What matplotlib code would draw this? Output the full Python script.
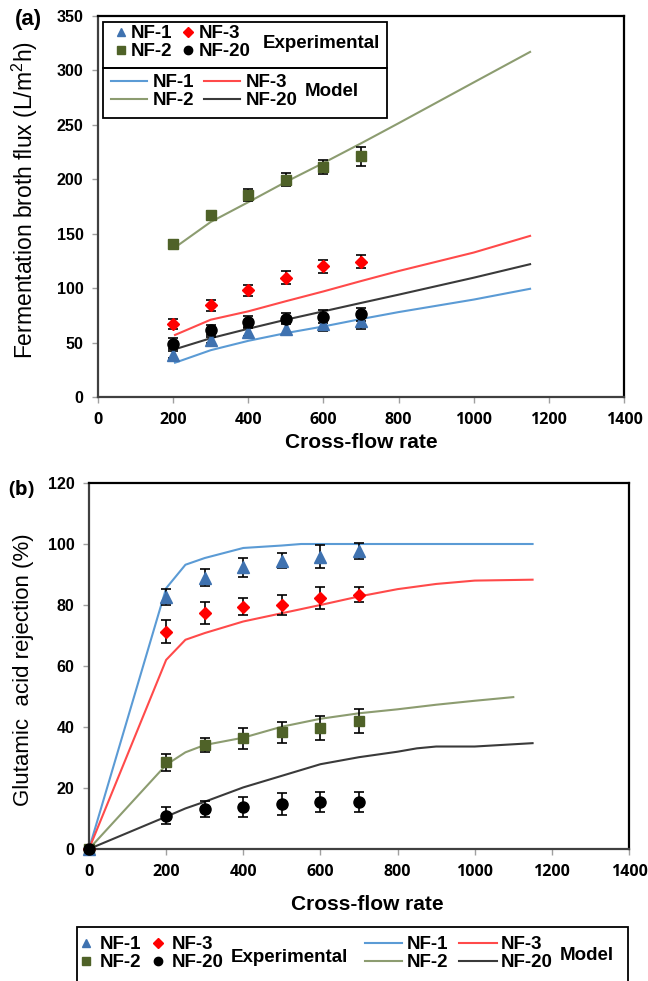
import numpy as np
import matplotlib
matplotlib.use("Agg")
import matplotlib.pyplot as plt
from matplotlib.lines import Line2D
from matplotlib.patches import Rectangle

W, H = 648, 981

# ---- panel (a) data: fermentation broth flux ----
x_exp = [200, 300, 400, 500, 600, 700]
a_nf1 = [39, 52.5, 59.6, 62.7, 67, 69.5]
a_nf1_err = [3, 3, 4, 5, 6, 7.4]
a_nf2 = [141, 167.6, 185.5, 199.7, 211, 221]
a_nf2_err = [3, 3, 5.4, 6.3, 6.6, 9]
a_nf3 = [67.3, 84.3, 98.2, 109.6, 120, 124.4]
a_nf3_err = [4.6, 4.9, 5, 5.9, 6.3, 5.6]
a_nf20 = [49, 61.5, 69, 72, 73.8, 76]
a_nf20_err = [5, 5, 5, 5, 6, 6]

x_mod_a = [205, 300, 400, 500, 600, 700, 800, 1000, 1150]
ma_nf1 = [31.5, 43, 51.6, 58.7, 64.8, 71.6, 78, 89.5, 99.4]
ma_nf2 = [137.4, 160.8, 179, 197.6, 215, 233, 251.5, 289, 317]
ma_nf3 = [57, 71, 78.7, 88, 97, 106.5, 115.7, 132.7, 148]
ma_nf20 = [43.9, 54, 62.7, 71, 78.7, 86.4, 94, 109.6, 122]

# ---- panel (b) data: glutamic acid rejection ----
x_exp_b = [0, 200, 300, 400, 500, 600, 700]
b_nf1 = [0, 82.5, 89, 92.3, 94.5, 95.9, 97.8]
b_nf1_err = [0, 2.6, 2.8, 3, 2.4, 3.7, 2.6]
b_nf3 = [0, 71.3, 77.3, 79.5, 80, 82.3, 83.4]
b_nf3_err = [0, 3.9, 3.6, 2.8, 3.4, 3.5, 2.5]
b_nf2 = [0, 28.4, 34.1, 36.3, 38.2, 39.7, 42]
b_nf2_err = [0, 2.8, 2.4, 3.4, 3.3, 3.8, 4]
b_nf20 = [0, 10.9, 13, 13.9, 14.8, 15.5, 15.5]
b_nf20_err = [0, 2.8, 2.6, 3.3, 3.6, 3.3, 3.3]

xb_nf1 = [0, 200, 250, 300, 400, 500, 550, 1150]
mb_nf1 = [0, 85.5, 93.2, 95.4, 98.7, 99.5, 100, 100]
xb_nf3 = [0, 200, 250, 300, 400, 500, 600, 700, 800, 900, 1000, 1150]
mb_nf3 = [0, 62, 68.6, 70.8, 74.6, 77.3, 80, 82.8, 85.2, 86.9, 88, 88.3]
xb_nf2 = [0, 200, 250, 300, 400, 500, 600, 700, 800, 900, 1000, 1100]
mb_nf2 = [0, 27.6, 31.7, 34.1, 36.5, 40.1, 42.7, 44.5, 45.8, 47.3, 48.6, 49.8]
xb_nf20 = [0, 200, 250, 300, 400, 500, 600, 700, 800, 850, 900, 1000, 1150]
mb_nf20 = [0, 10.6, 13.3, 15.5, 20.2, 24, 27.8, 30.1, 31.9, 33, 33.6, 33.6, 34.7]

names = ["NF-1", "NF-2", "NF-3", "NF-20"]
mk_style = {
    "NF-1": dict(marker="^", color="#3F72B0", ms=8),
    "NF-2": dict(marker="s", color="#4F6228", ms=7.5),
    "NF-3": dict(marker="D", color="#FF0000", ms=6.5),
    "NF-20": dict(marker="o", color="#000000", ms=8),
}
line_col = {"NF-1": "#5B9BD5", "NF-2": "#8C9C70", "NF-3": "#FF4A4A", "NF-20": "#3A3A3A"}

ARIAL = "Liberation Sans"
OPEN = "Open Sans"


def px(x, y):
    return x / W, 1 - y / H


def style_axes(ax, xmax, ymax, ystep):
    ax.set_xlim(0, xmax)
    ax.set_ylim(0, ymax)
    ax.set_xticks(np.arange(0, xmax + 1, 200))
    ax.set_yticks(np.arange(0, ymax + 1, ystep))
    for s in ax.spines.values():
        s.set_linewidth(1.6)
        s.set_color("black")
    ax.spines["left"].set_color("#404040")
    ax.spines["bottom"].set_color("#404040")
    ax.tick_params(axis="both", direction="out", length=4.5, width=1, color="#A0A0A0", pad=6)
    for lab in ax.get_xticklabels():
        lab.set_fontfamily(OPEN)
        lab.set_fontweight("bold")
        lab.set_fontsize(11.5)
    for lab in ax.get_yticklabels():
        lab.set_fontfamily(ARIAL)
        lab.set_fontweight("bold")
        lab.set_fontsize(11.5)


def exp_points(ax, x, ys, errs):
    for n in ["NF-2", "NF-3", "NF-1", "NF-20"]:
        st = mk_style[n]
        ax.errorbar(x, ys[n], yerr=errs[n], fmt="none", ecolor="black", elinewidth=1.2,
                    capsize=3.5, capthick=1.2, zorder=3, clip_on=False)
        ax.plot(x, ys[n], linestyle="none", marker=st["marker"], color=st["color"],
                ms=st["ms"], mec=st["color"], zorder=4, clip_on=False)


fig = plt.figure(figsize=(W / 100, H / 100), dpi=100)

# panel (a)
l, r, t, b = 98, 624, 16, 397
ax1 = fig.add_axes([l / W, 1 - b / H, (r - l) / W, (b - t) / H])
for n, y in zip(names, [ma_nf1, ma_nf2, ma_nf3, ma_nf20]):
    ax1.plot(x_mod_a, y, color=line_col[n], lw=1.5, zorder=2)
exp_points(ax1, x_exp,
           {"NF-1": a_nf1, "NF-2": a_nf2, "NF-3": a_nf3, "NF-20": a_nf20},
           {"NF-1": a_nf1_err, "NF-2": a_nf2_err, "NF-3": a_nf3_err, "NF-20": a_nf20_err})
style_axes(ax1, 1400, 350, 50)

# panel (b)
l, r, t, b = 89, 629, 483, 849
ax2 = fig.add_axes([l / W, 1 - b / H, (r - l) / W, (b - t) / H])
for n, xx, y in zip(names, [xb_nf1, xb_nf2, xb_nf3, xb_nf20], [mb_nf1, mb_nf2, mb_nf3, mb_nf20]):
    ax2.plot(xx, y, color=line_col[n], lw=1.5, zorder=2)
exp_points(ax2, x_exp_b,
           {"NF-1": b_nf1, "NF-2": b_nf2, "NF-3": b_nf3, "NF-20": b_nf20},
           {"NF-1": b_nf1_err, "NF-2": b_nf2_err, "NF-3": b_nf3_err, "NF-20": b_nf20_err})
style_axes(ax2, 1400, 120, 20)

# axis labels and panel letters
fig.text(*px(25, 200), "Fermentation broth flux (L/m$\\mathregular{^2}$h)", rotation=90,
         ha="center", va="center", fontsize=16.5, family=ARIAL)
fig.text(*px(24, 670), "Glutamic  acid rejection (%)", rotation=90,
         ha="center", va="center", fontsize=16, family=ARIAL)
fig.text(*px(361, 443), "Cross-flow rate", ha="center", va="center", fontsize=15,
         family=ARIAL, fontweight="bold")
fig.text(*px(367, 904), "Cross-flow rate", ha="center", va="center", fontsize=15,
         family=ARIAL, fontweight="bold")
fig.text(*px(28, 20), "(a)", ha="center", va="center", fontsize=16, family=ARIAL, fontweight="bold")
fig.text(*px(21, 490), "(b)", ha="center", va="center", fontsize=14.5, family=OPEN, fontweight="bold")

# legends
exp_handles = [Line2D([], [], linestyle="none", marker=mk_style[n]["marker"],
                      color=mk_style[n]["color"], ms=mk_style[n]["ms"] * 0.75) for n in names]
mod_handles = [Line2D([], [], color=line_col[n], lw=1.5) for n in names]
leg_font = {"family": ARIAL, "weight": "bold", "size": 13.5}


def add_legend(handles, x, y, hlen, hpad, cspace):
    lg = fig.legend(handles, names, ncol=2, loc="upper left", bbox_to_anchor=px(x, y),
                    frameon=False, prop=leg_font, borderpad=0, borderaxespad=0,
                    handlelength=hlen, handletextpad=hpad, columnspacing=cspace,
                    labelspacing=0.05)
    return lg


add_legend(exp_handles, 113, 25, 0.8, 0.15, 0.45)
add_legend(mod_handles, 111, 74, 1.92, 0.32, 0.48)
fig.text(*px(263, 43), "Experimental", ha="left", va="center", **leg_font)
fig.text(*px(305, 91), "Model", ha="left", va="center", **leg_font)
fig.add_artist(Rectangle(px(103, 68), 284 / W, 46 / H, transform=fig.transFigure,
                         fill=False, ec="black", lw=1.3))
fig.add_artist(Rectangle(px(103, 118), 284 / W, 50 / H, transform=fig.transFigure,
                         fill=False, ec="black", lw=1.3))

add_legend(exp_handles, 78, 936, 0.8, 0.35, 0.5)
add_legend(mod_handles, 365, 936, 2.0, 0.22, 0.6)
fig.text(*px(231, 958), "Experimental", ha="left", va="center", **leg_font)
fig.text(*px(560, 955), "Model", ha="left", va="center", **leg_font)
fig.add_artist(Rectangle(px(77, 990), 551 / W, 63 / H, transform=fig.transFigure,
                         fill=False, ec="black", lw=1.3))

fig.savefig("out.png", dpi=100)
